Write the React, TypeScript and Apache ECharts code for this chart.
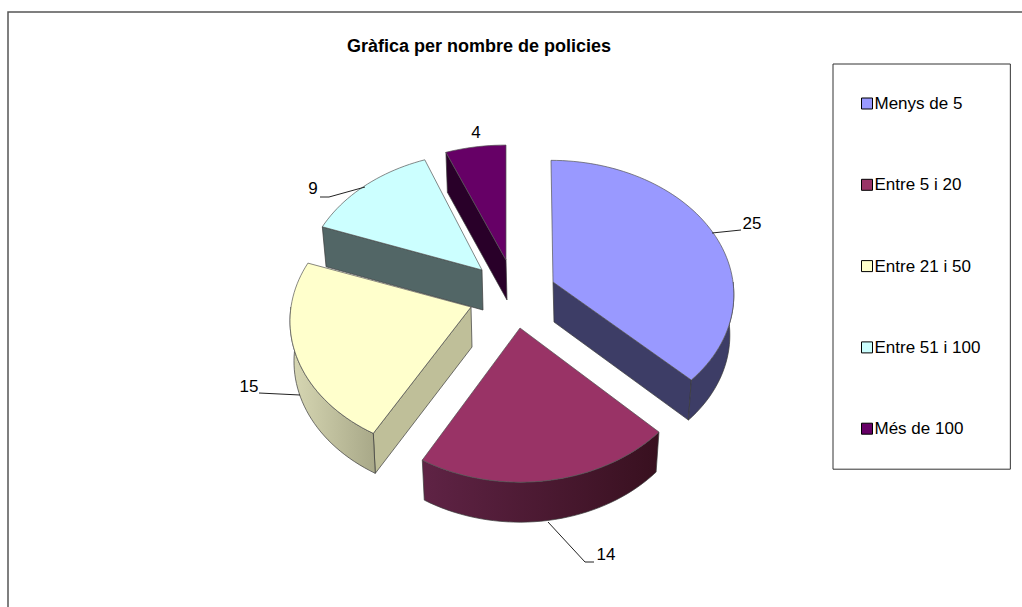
import React, { useEffect, useRef } from "react";
import * as echarts from "echarts";

const titleText = "Gràfica per nombre de policies";
const categories = ["Menys de 5", "Entre 5 i 20", "Entre 21 i 50", "Entre 51 i 100", "Més de 100"];
const values = [25, 14, 15, 9, 4];
const topColors = ["#9999FF", "#993366", "#FFFFCC", "#CCFFFF", "#660066"];
const wallColors = ["#3D3D66", "#3D1429", "#BFBF99", "#526666", "#290029"];
const arcLeftColors = ["#3D3D66", "#5F2345", "#D8D8B4", "#526666", "#290029"];
const arcRightColors = ["#3D3D66", "#38101F", "#A8A888", "#526666", "#290029"];

// Layout of each exploded slice: apex of the top face, radii, perspective, lean.
const sliceLayout = [
  { ax: 553, ay: 282, rx: 180, ry: 132, k: 0.085, skew: -2 },
  { ax: 520, ay: 328, rx: 180, ry: 138, k: 0.105, skew: 0 },
  { ax: 471, ay: 307, rx: 180, ry: 132, k: 0.105, skew: 0 },
  { ax: 482, ay: 270, rx: 177, ry: 130, k: 0.105, skew: 2 },
  { ax: 506, ay: 260, rx: 180, ry: 127, k: 0.105, skew: 0 },
];
// Leader lines and label centres.
const labelLayout = [
  { x: 752, y: 223, line: [[712, 233], [741, 230]] },
  { x: 606, y: 554, line: [[548, 522], [585, 562], [594, 562]] },
  { x: 249, y: 386, line: [[259, 393], [300, 395]] },
  { x: 313, y: 188, line: [[320, 197], [329, 197], [365, 187]] },
  { x: 476, y: 132, line: null as number[][] | null },
];
const drawOrder = [4, 3, 0, 2, 1];

const DEPTH = 40;
const LOWER_SHRINK = 4;
const FONT = "'Liberation Sans', Arial, sans-serif";
const EDGE = "#3a3a3a";

const total = values.reduce((a, b) => a + b, 0);
const startAngles: number[] = [];
values.reduce((acc, v, i) => {
  startAngles[i] = (acc / total) * Math.PI * 2;
  return acc + v;
}, 0);

function project(i: number, theta: number, lower = false): number[] {
  const l = sliceLayout[i];
  const v = Math.cos(theta);
  const s = 1 / (1 + l.k * v);
  const x = l.ax + l.rx * Math.sin(theta) * s + l.skew * v;
  const y = l.ay - l.ry * v * s;
  return lower ? [x - LOWER_SHRINK * Math.sin(theta), y + DEPTH] : [x, y];
}

function arcPoints(i: number, a0: number, a1: number, lower = false): number[][] {
  const pts: number[][] = [];
  const n = Math.max(2, Math.ceil(((a1 - a0) * 180) / Math.PI / 2));
  for (let k = 0; k <= n; k++) pts.push(project(i, a0 + ((a1 - a0) * k) / n, lower));
  return pts;
}

function makeRenderItem(i: number) {
  return (_params: unknown, api: any) => {
    const l = sliceLayout[i];
    const a0 = startAngles[i];
    const a1 = a0 + (api.value(0) / total) * Math.PI * 2;
    const apex = [l.ax, l.ay];
    const apexLow = [l.ax + 1, l.ay + DEPTH];
    const children: any[] = [];
    const stroke = { stroke: EDGE, lineWidth: 0.7 };

    const wall = (theta: number) => {
      children.push({
        type: "polygon",
        shape: { points: [apex, project(i, theta), project(i, theta, true), apexLow] },
        style: { fill: wallColors[i], ...stroke },
      });
    };
    // Only the radial walls that face the viewer are drawn.
    if (Math.sin(a0) < -1e-6) wall(a0);
    if (Math.sin(a1) > 1e-6) wall(a1);

    const from = Math.max(a0, Math.PI / 2);
    const to = Math.min(a1, (Math.PI * 3) / 2);
    if (to > from) {
      const upper = arcPoints(i, from, to);
      const lower = arcPoints(i, from, to, true).reverse();
      children.push({
        type: "polygon",
        shape: { points: [...upper, ...lower] },
        style: {
          fill: {
            type: "linear",
            x: 0,
            y: 0,
            x2: 1,
            y2: 0,
            colorStops: [
              { offset: 0, color: arcLeftColors[i] },
              { offset: 1, color: arcRightColors[i] },
            ],
          },
          ...stroke,
        },
      });
    }

    children.push({
      type: "polygon",
      shape: { points: [apex, ...arcPoints(i, a0, a1)] },
      style: { fill: topColors[i], stroke: "#555555", lineWidth: 0.7 },
    });

    const lab = labelLayout[i];
    if (lab.line) {
      children.push({
        type: "polyline",
        shape: { points: lab.line },
        style: { fill: "none", stroke: "#222222", lineWidth: 1 },
      });
    }
    children.push({
      type: "text",
      x: lab.x,
      y: lab.y,
      style: {
        text: String(api.value(0)),
        fill: "#000000",
        font: `17px ${FONT}`,
        align: "center",
        verticalAlign: "middle",
      },
    });
    return { type: "group", children };
  };
}

export default function App() {
  const ref = useRef<HTMLDivElement>(null);
  useEffect(() => {
    const chart = echarts.init(ref.current!, null, { renderer: "svg" });
    chart.setOption({
      animation: false,
      backgroundColor: "#ffffff",
      title: {
        text: titleText,
        left: 474,
        top: 32,
        textAlign: "center",
        textStyle: { fontFamily: FONT, fontSize: 18, fontWeight: "bold", color: "#000000" },
      },
      legend: {
        orient: "vertical",
        left: 833,
        top: 64,
        data: categories,
        icon: "rect",
        itemWidth: 11,
        itemHeight: 11,
        itemGap: 64.3,
        padding: [31, 30, 32, 28],
        borderColor: "#333333",
        borderWidth: 1,
        selectedMode: false,
        itemStyle: { borderColor: "#000000", borderWidth: 1 },
        textStyle: { fontFamily: FONT, fontSize: 17, color: "#000000", padding: [0, 0, 0, -3] },
      },
      graphic: [
        {
          type: "polyline",
          silent: true,
          shape: { points: [[8, 607], [8, 12], [1022, 12]] },
          style: { fill: "none", stroke: "#555555", lineWidth: 1.5 },
        },
      ],
      series: categories.map((name, i) => ({
        type: "custom",
        name,
        coordinateSystem: "none",
        silent: true,
        z: 2 + drawOrder.indexOf(i),
        itemStyle: { color: topColors[i] },
        data: [[values[i]]],
        renderItem: makeRenderItem(i),
      })),
    });
    return () => chart.dispose();
  }, []);
  return <div ref={ref} style={{ position: "fixed", left: 0, top: 0, width: 1022, height: 607 }} />;
}
